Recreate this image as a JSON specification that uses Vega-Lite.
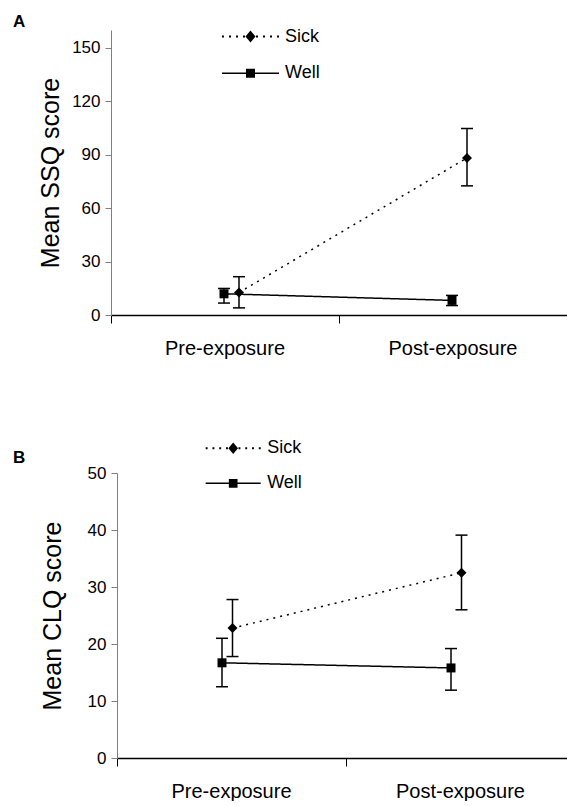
{
  "$schema": "https://vega.github.io/schema/vega-lite/v6.json",
  "padding": {"top": 12, "left": 13, "right": 0, "bottom": 0},
  "spacing": 81,
  "background": "white",
  "config": {
    "font": "Liberation Sans",
    "view": {"stroke": null},
    "axis": {"grid": false}
  },
  "resolve": {
    "scale": {"shape": "independent", "strokeDash": "independent", "strokeWidth": "independent", "xOffset": "independent", "x": "independent", "y": "independent"},
    "legend": {"shape": "independent"}
  },
  "datasets": {
    "scores": [
      {"panel": "A", "phase": "Pre-exposure", "group": "Sick", "mean": 12.6, "lo": 4.0, "hi": 21.5},
      {"panel": "A", "phase": "Post-exposure", "group": "Sick", "mean": 88.2, "lo": 72.5, "hi": 104.7},
      {"panel": "A", "phase": "Pre-exposure", "group": "Well", "mean": 11.9, "lo": 6.7, "hi": 14.9},
      {"panel": "A", "phase": "Post-exposure", "group": "Well", "mean": 8.2, "lo": 5.3, "hi": 11.0},
      {"panel": "B", "phase": "Pre-exposure", "group": "Sick", "mean": 22.8, "lo": 17.8, "hi": 27.8},
      {"panel": "B", "phase": "Post-exposure", "group": "Sick", "mean": 32.5, "lo": 26.0, "hi": 39.1},
      {"panel": "B", "phase": "Pre-exposure", "group": "Well", "mean": 16.7, "lo": 12.5, "hi": 21.0},
      {"panel": "B", "phase": "Post-exposure", "group": "Well", "mean": 15.8, "lo": 11.9, "hi": 19.2}
    ]
  },
  "vconcat": [
    {
      "width": 456,
      "height": 285,
      "title": {"text": "A", "anchor": "start", "frame": "group", "fontSize": 17, "fontWeight": "bold", "dx": -98, "offset": -16, "baseline": "alphabetic"},
      "data": {"name": "scores"},
      "transform": [{"filter": "datum.panel === 'A'"}],
      "encoding": {
        "x": {"field": "phase", "type": "nominal", "scale": {"domain": ["Pre-exposure", "Post-exposure"], "paddingInner": 0, "paddingOuter": 0},
          "axis": {"title": null, "bandPosition": 0, "labelAngle": 0, "labelFontSize": 20, "labelColor": "black", "labelPadding": 15, "domainColor": "black", "domainWidth": 1.5, "tickColor": "black", "tickSize": 8, "tickWidth": 1}},
        "xOffset": {"field": "group", "type": "nominal", "scale": {"type": "point", "domain": ["Well", "Sick"], "range": [113, 128], "padding": 0}}
      },
      "layer": [
        {
          "mark": {"type": "line", "color": "black", "strokeWidth": 1.5},
          "encoding": {
            "y": {"field": "mean", "type": "quantitative", "scale": {"domain": [0, 150]},
              "axis": {"values": [0, 30, 60, 90, 120, 150], "title": "Mean SSQ score", "titleFontSize": 25, "titleFontWeight": "normal", "titleColor": "black", "titleX": -61, "titleY": 142.5, "titleBaseline": "middle", "titleAngle": -90, "labelFontSize": 17, "labelColor": "black", "labelPadding": 5, "domainColor": "#808080", "tickColor": "#808080", "tickSize": 6}},
            "strokeDash": {"field": "group", "type": "nominal", "scale": {"domain": ["Well", "Sick"], "range": [[1, 0], [2, 5]]}, "legend": null},
            "strokeWidth": {"field": "group", "type": "nominal", "scale": {"domain": ["Well", "Sick"], "range": [1.5, 2]}, "legend": null}
          }
        },
        {
          "mark": {"type": "rule", "color": "black", "strokeWidth": 1.5},
          "encoding": {"y": {"field": "lo", "type": "quantitative"}, "y2": {"field": "hi"}}
        },
        {
          "mark": {"type": "point", "shape": "M-1,0H1", "size": 144, "filled": false, "color": "black", "strokeWidth": 1.5, "opacity": 1},
          "encoding": {"y": {"field": "lo", "type": "quantitative"}}
        },
        {
          "mark": {"type": "point", "shape": "M-1,0H1", "size": 144, "filled": false, "color": "black", "strokeWidth": 1.5, "opacity": 1},
          "encoding": {"y": {"field": "hi", "type": "quantitative"}}
        },
        {
          "transform": [{"filter": "datum.group === 'Sick'"}],
          "mark": {"type": "point", "shape": "diamond", "size": 100, "filled": true, "color": "black", "opacity": 1},
          "encoding": {"y": {"field": "mean", "type": "quantitative"}}
        },
        {
          "transform": [{"filter": "datum.group === 'Well'"}],
          "mark": {"type": "point", "shape": "square", "size": 81, "filled": true, "color": "black", "opacity": 1},
          "encoding": {"y": {"field": "mean", "type": "quantitative"}}
        },
        {
          "transform": [{"filter": "false"}],
          "mark": {"type": "point", "filled": true, "color": "black", "opacity": 1},
          "encoding": {
            "y": {"field": "mean", "type": "quantitative"},
            "shape": {"field": "group", "type": "nominal", "scale": {"domain": ["Sick", "Well"], "range": [
                "M-3.17,-0.111H-2.95V0.111H-3.17ZM-2.39,-0.111H-2.17V0.111H-2.39ZM-1.61,-0.111H-1.39V0.111H-1.61ZM-0.83,-0.111H-0.61V0.111H-0.83ZM0,-0.667L0.556,0L0,0.667L-0.556,0ZM0.61,-0.111H0.83V0.111H0.61ZM1.39,-0.111H1.61V0.111H1.39ZM2.17,-0.111H2.39V0.111H2.17ZM2.95,-0.111H3.17V0.111H2.95Z",
                "M-3.17,-0.083H3.17V0.083H-3.17ZM-0.5,-0.5H0.5V0.5H-0.5Z"]},
              "legend": {"title": null, "orient": "none", "legendX": 130.5, "legendY": -2.5, "labelFontSize": 18, "labelColor": "black", "labelOffset": 25.5, "rowPadding": 18.7, "padding": 0, "symbolSize": 324, "symbolFillColor": "black", "symbolStrokeWidth": 0, "symbolOpacity": 1}}
          }
        }
      ]
    },
    {
      "width": 456,
      "height": 285,
      "title": {"text": "B", "anchor": "start", "frame": "group", "fontSize": 17, "fontWeight": "bold", "dx": -98, "offset": -41, "baseline": "alphabetic"},
      "data": {"name": "scores"},
      "transform": [{"filter": "datum.panel === 'B'"}],
      "encoding": {
        "x": {"field": "phase", "type": "nominal", "scale": {"domain": ["Pre-exposure", "Post-exposure"], "paddingInner": 0, "paddingOuter": 0, "range": [6, 464]},
          "axis": {"title": null, "bandPosition": 0, "labelAngle": 0, "labelFontSize": 20, "labelColor": "black", "labelPadding": 15, "domainColor": "black", "domainWidth": 1.5, "tickColor": "black", "tickSize": 8, "tickWidth": 1}},
        "xOffset": {"field": "group", "type": "nominal", "scale": {"type": "point", "domain": ["Well", "Sick"], "range": [105, 115.5], "padding": 0}}
      },
      "layer": [
        {
          "mark": {"type": "line", "color": "black", "strokeWidth": 1.5},
          "encoding": {
            "y": {"field": "mean", "type": "quantitative", "scale": {"domain": [0, 50]},
              "axis": {"values": [0, 10, 20, 30, 40, 50], "offset": -6, "title": "Mean CLQ score", "titleFontSize": 25, "titleFontWeight": "normal", "titleColor": "black", "titleX": -65, "titleY": 142.5, "titleBaseline": "middle", "titleAngle": -90, "labelFontSize": 17, "labelColor": "black", "labelPadding": 5, "domainColor": "#808080", "tickColor": "#808080", "tickSize": 6}},
            "strokeDash": {"field": "group", "type": "nominal", "scale": {"domain": ["Well", "Sick"], "range": [[1, 0], [2, 5]]}, "legend": null},
            "strokeWidth": {"field": "group", "type": "nominal", "scale": {"domain": ["Well", "Sick"], "range": [1.5, 2]}, "legend": null}
          }
        },
        {
          "mark": {"type": "rule", "color": "black", "strokeWidth": 1.5},
          "encoding": {"y": {"field": "lo", "type": "quantitative"}, "y2": {"field": "hi"}}
        },
        {
          "mark": {"type": "point", "shape": "M-1,0H1", "size": 144, "filled": false, "color": "black", "strokeWidth": 1.5, "opacity": 1},
          "encoding": {"y": {"field": "lo", "type": "quantitative"}}
        },
        {
          "mark": {"type": "point", "shape": "M-1,0H1", "size": 144, "filled": false, "color": "black", "strokeWidth": 1.5, "opacity": 1},
          "encoding": {"y": {"field": "hi", "type": "quantitative"}}
        },
        {
          "transform": [{"filter": "datum.group === 'Sick'"}],
          "mark": {"type": "point", "shape": "diamond", "size": 100, "filled": true, "color": "black", "opacity": 1},
          "encoding": {"y": {"field": "mean", "type": "quantitative"}}
        },
        {
          "transform": [{"filter": "datum.group === 'Well'"}],
          "mark": {"type": "point", "shape": "square", "size": 81, "filled": true, "color": "black", "opacity": 1},
          "encoding": {"y": {"field": "mean", "type": "quantitative"}}
        },
        {
          "transform": [{"filter": "false"}],
          "mark": {"type": "point", "filled": true, "color": "black", "opacity": 1},
          "encoding": {
            "y": {"field": "mean", "type": "quantitative"},
            "shape": {"field": "group", "type": "nominal", "scale": {"domain": ["Sick", "Well"], "range": [
                "M-3.17,-0.111H-2.95V0.111H-3.17ZM-2.39,-0.111H-2.17V0.111H-2.39ZM-1.61,-0.111H-1.39V0.111H-1.61ZM-0.83,-0.111H-0.61V0.111H-0.83ZM0,-0.667L0.556,0L0,0.667L-0.556,0ZM0.61,-0.111H0.83V0.111H0.61ZM1.39,-0.111H1.61V0.111H1.39ZM2.17,-0.111H2.39V0.111H2.17ZM2.95,-0.111H3.17V0.111H2.95Z",
                "M-3.17,-0.083H3.17V0.083H-3.17ZM-0.5,-0.5H0.5V0.5H-0.5Z"]},
              "legend": {"title": null, "orient": "none", "legendX": 113.2, "legendY": -33.7, "labelFontSize": 18, "labelColor": "black", "labelOffset": 25, "rowPadding": 17, "padding": 0, "symbolSize": 301, "symbolFillColor": "black", "symbolStrokeWidth": 0, "symbolOpacity": 1}}
          }
        }
      ]
    }
  ]
}
